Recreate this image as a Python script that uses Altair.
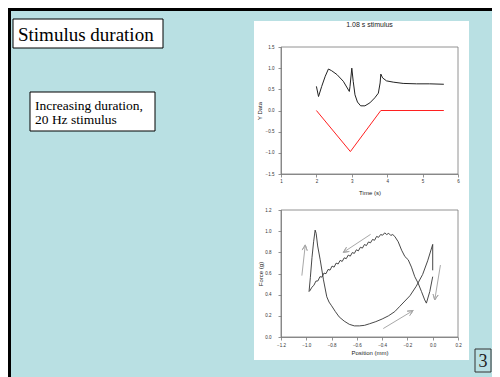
import altair as alt
import pandas as pd
import numpy as np

CYAN = "#b9e0e3"

# ---------- top panel: force and position vs time ----------
force_t = [2.00, 2.06, 2.15, 2.25, 2.34, 2.43, 2.58, 2.76, 2.93, 2.95, 3.00, 3.04, 3.09, 3.16,
           3.25, 3.37, 3.51, 3.65, 3.75, 3.80, 3.82, 3.87, 3.98, 4.17, 4.45, 4.83, 5.20, 5.60]
force_y = [0.57, 0.33, 0.57, 0.81, 0.98, 0.94, 0.85, 0.69, 0.45, 0.57, 1.00, 0.69, 0.37, 0.20,
           0.11, 0.11, 0.18, 0.30, 0.41, 0.65, 0.86, 0.77, 0.70, 0.67, 0.64, 0.63, 0.63, 0.62]
pos_t = [2.00, 2.96, 3.82, 5.60]
pos_y = [0.00, -0.97, 0.00, 0.00]
x_ticks_top = [1, 2, 3, 4, 5, 6]
y_ticks_top = [-1.5, -1.0, -0.5, 0.0, 0.5, 1.0, 1.5]

# ---------- bottom panel: force vs position loop ----------
loop_x = [0.000, -0.023, -0.050, -0.063, -0.089, -0.116, -0.142, -0.168, -0.194, -0.220, -0.246, -0.273,
          -0.300, -0.316, -0.332, -0.348, -0.364, -0.380, -0.396, -0.412, -0.428, -0.444, -0.460,
          -0.476, -0.492, -0.508, -0.524, -0.540, -0.556, -0.572, -0.588, -0.604, -0.620, -0.636,
          -0.652, -0.668, -0.684, -0.700, -0.716, -0.732, -0.748, -0.764, -0.780, -0.796, -0.812,
          -0.828, -0.844, -0.860, -0.876, -0.892, -0.908, -0.924, -0.940, -0.956, -0.970, -0.978,
          -0.968, -0.955, -0.942, -0.930,
          -0.922, -0.910, -0.890, -0.864, -0.838, -0.820, -0.800, -0.770, -0.740, -0.700, -0.660,
          -0.620, -0.580, -0.540, -0.500, -0.450, -0.400, -0.350, -0.300, -0.260, -0.220, -0.180,
          -0.130, -0.080, -0.040, 0.000, 0.000]
loop_y = [0.570, 0.430, 0.320, 0.350, 0.430, 0.510, 0.570, 0.660, 0.730, 0.760, 0.820, 0.900,
          0.950, 0.968, 0.960, 0.980, 0.968, 0.984, 0.962, 0.968, 0.942, 0.950, 0.914,
          0.922, 0.890, 0.898, 0.864, 0.874, 0.840, 0.848, 0.814, 0.824, 0.790, 0.798,
          0.764, 0.774, 0.740, 0.748, 0.714, 0.724, 0.690, 0.698, 0.660, 0.670, 0.632,
          0.638, 0.598, 0.604, 0.566, 0.570, 0.530, 0.528, 0.488, 0.470, 0.440, 0.430,
          0.560, 0.750, 0.900, 1.010,
          0.980, 0.860, 0.730, 0.540, 0.380, 0.330, 0.295, 0.240, 0.190, 0.150, 0.120,
          0.105, 0.105, 0.110, 0.125, 0.145, 0.170, 0.200, 0.240, 0.290, 0.340, 0.390,
          0.480, 0.590, 0.720, 0.875, 0.630]
x_ticks_bot = [-1.2, -1.0, -0.8, -0.6, -0.4, -0.2, 0.0, 0.2]
y_ticks_bot = [0.0, 0.2, 0.4, 0.6, 0.8, 1.0, 1.2]

# direction arrows (start -> tip)
arr_x0 = [-1.035, -0.491, 0.061, -0.391]
arr_y0 = [0.58, 0.97, 0.68, 0.08]
arr_x1 = [-1.008, -0.707, 0.016, -0.155]
arr_y1 = [0.87, 0.80, 0.35, 0.25]

W, H = 177, 127
one = pd.DataFrame({"a": [0]})


def box(x, x2, y, y2, **kw):
    return alt.Chart(one).mark_rect(**kw).encode(
        x=alt.value(x), x2=alt.value(x2), y=alt.value(y), y2=alt.value(y2))


def label(txt, x, y, **kw):
    return alt.Chart(one).mark_text(text=txt, **kw).encode(x=alt.value(x), y=alt.value(y))


SERIF = "Liberation Serif"

# slide decorations (positioned relative to the top plot's origin)
deco = [
    box(-273, 211, -39, 330, color=CYAN),
    box(-273, 211, -39, -36, color="black"),
    box(-273, -270, -39, 330, color="black"),
    box(-27, 188, -26, 313, color="white"),
    box(-268, -118, -28, 1, fill="white", stroke="black", strokeWidth=1),
    label("Stimulus duration", -263, -6, font=SERIF, fontSize=19,
          align="left", baseline="alphabetic", color="black"),
    box(-251, -126, 45, 84, fill="white", stroke="black", strokeWidth=1),
    label("Increasing duration,", -246, 63, font=SERIF, fontSize=13.5,
          align="left", baseline="alphabetic", color="black"),
    label("20 Hz stimulus", -246, 77, font=SERIF, fontSize=13.5,
          align="left", baseline="alphabetic", color="black"),
    box(194, 210, 302, 325, fill=CYAN, stroke="#333333", strokeWidth=1),
    label("3", 202, 320, font=SERIF, fontSize=18,
          align="center", baseline="alphabetic", color="#222222"),
    label("1.08 s stimulus", W / 2, -20, font="Liberation Sans", fontSize=7,
          align="center", baseline="alphabetic", color="#222222"),
]

frame = box(0, W, 0, H, filled=False, stroke="#777777", strokeWidth=0.8)

df_force = pd.DataFrame({"t": force_t, "y": force_y})
df_pos = pd.DataFrame({"t": pos_t, "y": pos_y})

common_axis = dict(zindex=1, labelOverlap=False, labelFlush=False, grid=False)

xs_top = alt.Scale(domain=[1, 6], nice=False, zero=False)
ys_top = alt.Scale(domain=[-1.5, 1.5], nice=False, zero=False)
ax_x_top = alt.Axis(values=x_ticks_top, format="d", title="Time (s)", labelPadding=1,
                    titlePadding=7, **common_axis)
ax_y_top = alt.Axis(values=y_ticks_top, format=".1f", title="Y Data", labelPadding=4,
                    titlePadding=3, **common_axis)

force_line = alt.Chart(df_force).mark_line(color="#222222", strokeWidth=1).encode(
    x=alt.X("t:Q", scale=xs_top, axis=ax_x_top),
    y=alt.Y("y:Q", scale=ys_top, axis=ax_y_top))
pos_line = alt.Chart(df_pos).mark_line(color="#ff2020", strokeWidth=1).encode(
    x=alt.X("t:Q", scale=xs_top, axis=ax_x_top), y=alt.Y("y:Q", scale=ys_top, axis=ax_y_top))

top = alt.layer(*deco, frame, force_line, pos_line).properties(width=W, height=H)

# bottom
df_loop = pd.DataFrame({"x": loop_x, "y": loop_y, "i": range(len(loop_x))})
sx, sy = W / 1.4, H / 1.2
rows = []
for k in range(len(arr_x0)):
    x0, y0, x1, y1 = arr_x0[k], arr_y0[k], arr_x1[k], arr_y1[k]
    d = np.array([(x1 - x0) * sx, (y1 - y0) * sy])
    u = d / np.linalg.norm(d)
    pts = [(x0, y0), (x1, y1)]
    for ang in (25, -25):
        a = np.radians(ang)
        r = np.array([u[0] * np.cos(a) - u[1] * np.sin(a), u[0] * np.sin(a) + u[1] * np.cos(a)])
        bx, by = x1 - 6 * r[0] / sx, y1 - 6 * r[1] / sy
        pts += [(bx, by), (x1, y1)]
    for j, (px, py) in enumerate(pts):
        rows.append({"k": k, "j": j, "x": px, "y": py})
df_arr = pd.DataFrame(rows)

xs_bot = alt.Scale(domain=[-1.2, 0.2], nice=False, zero=False)
ys_bot = alt.Scale(domain=[0, 1.2], nice=False, zero=False)
ax_x_bot = alt.Axis(values=x_ticks_bot, format=".1f", title="Position (mm)", labelPadding=2,
                    titlePadding=3, **common_axis)
ax_y_bot = alt.Axis(values=y_ticks_bot, format=".1f", title="Force (g)", labelPadding=7,
                    titlePadding=1, **common_axis)

loop = alt.Chart(df_loop).mark_line(color="#333333", strokeWidth=0.9).encode(
    x=alt.X("x:Q", scale=xs_bot, axis=ax_x_bot),
    y=alt.Y("y:Q", scale=ys_bot, axis=ax_y_bot),
    order="i:Q")
arrows = alt.Chart(df_arr).mark_line(color="#a8a8a8", strokeWidth=1).encode(
    x=alt.X("x:Q", scale=xs_bot, axis=ax_x_bot), y=alt.Y("y:Q", scale=ys_bot, axis=ax_y_bot),
    detail="k:N", order="j:Q")

bottom = alt.layer(frame, loop, arrows).properties(width=W, height=H)

chart = alt.vconcat(top, bottom, spacing=36, bounds="flush").configure(
    background=CYAN, padding=0
).configure_view(stroke=None).configure_axis(
    domainColor="#777777", domainWidth=0.8, tickColor="#777777",
    tickSize=3, tickWidth=0.8, labelFont="Liberation Sans", labelFontSize=4.5,
    labelColor="#333333", titleFont="Liberation Sans", titleFontSize=6,
    titleFontWeight="normal", titleColor="#222222")

chart.save("out.html", embed_options={"renderer": "svg", "actions": False})
